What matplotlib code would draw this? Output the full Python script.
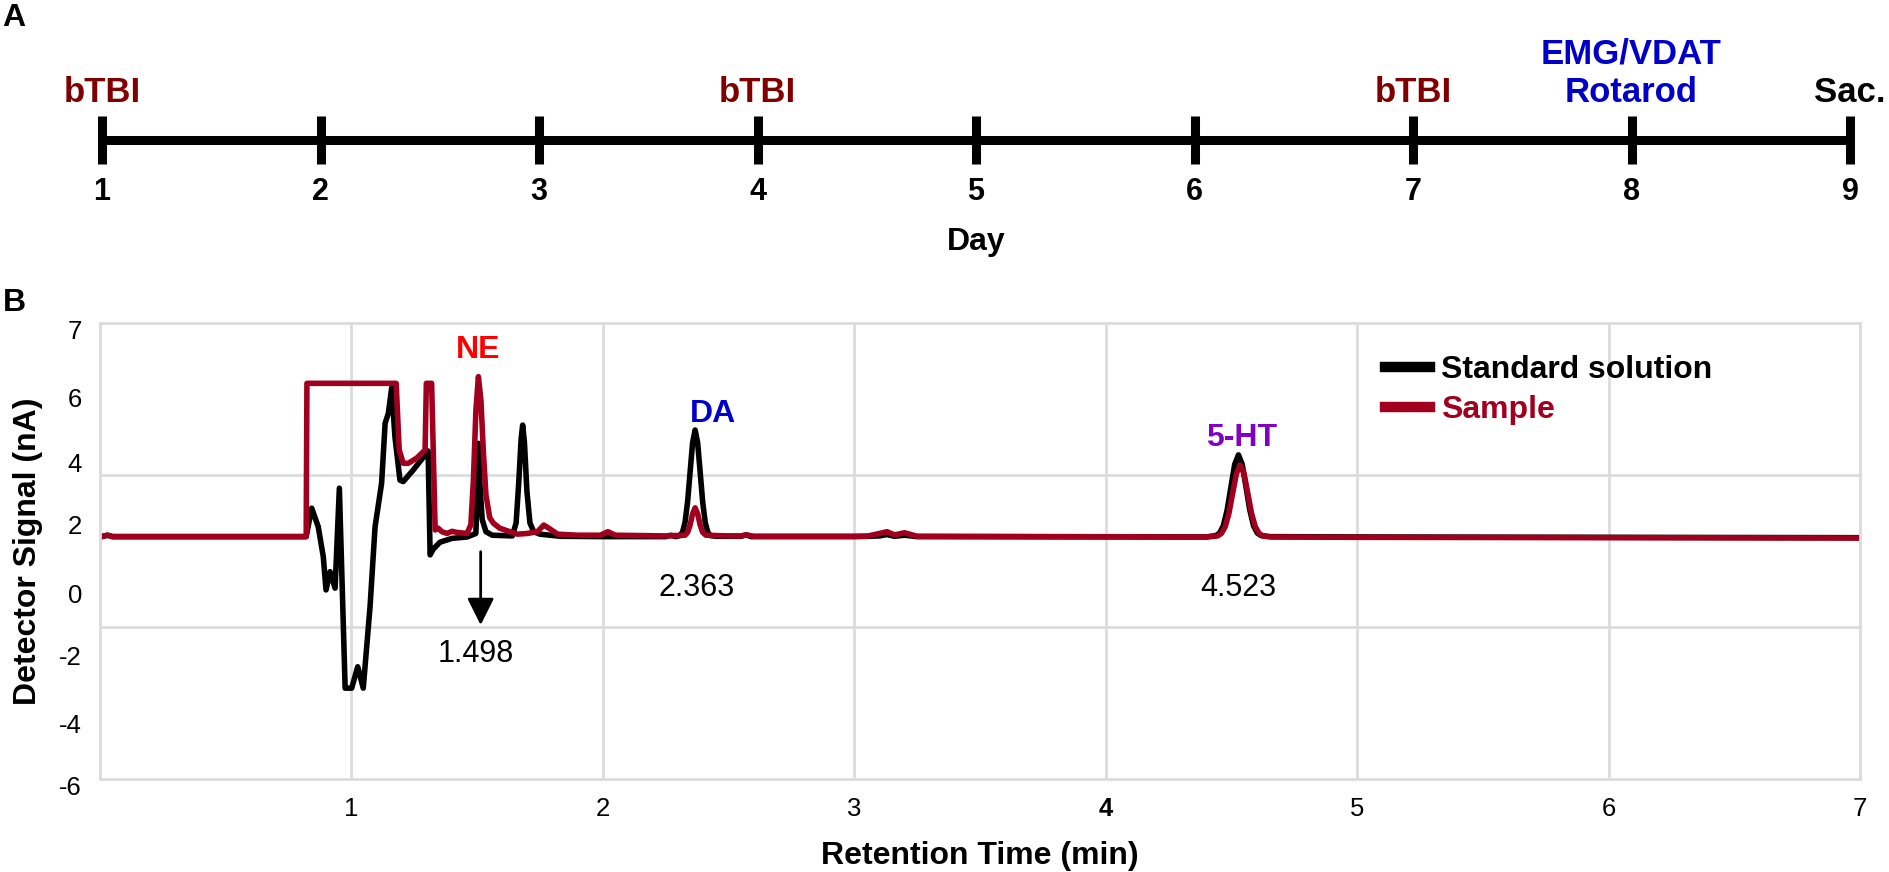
import matplotlib
matplotlib.use("Agg")
from matplotlib import pyplot as plt
from matplotlib.transforms import ScaledTranslation

plt.rcParams['font.family'] = ['Liberation Sans', 'DejaVu Sans']

# ---- panel A: timeline ----
days = [1, 2, 3, 4, 5, 6, 7, 8, 9]
event_days = [1, 4, 7, 8, 9]
event_labels = ['bTBI', 'bTBI', 'bTBI', 'EMG/VDAT\nRotarod', 'Sac.']
event_colors = ['#800000', '#800000', '#800000', '#0000C8', '#000000']

# ---- panel B: chromatogram ----
std_t = [0.00, 0.03, 0.05, 0.82, 0.842, 0.868, 0.888, 0.899, 0.915, 0.935, 0.952, 0.975,
         1.001, 1.025, 1.047, 1.074, 1.094, 1.12, 1.134, 1.147, 1.160, 1.173, 1.193, 1.206,
         1.246, 1.293, 1.305, 1.313, 1.325, 1.352, 1.40, 1.46, 1.495, 1.50, 1.505, 1.512,
         1.52, 1.535, 1.56, 1.64, 1.655, 1.665, 1.675, 1.681, 1.688, 1.698, 1.71, 1.725,
         1.75, 1.83, 2.0, 2.25, 2.27, 2.29, 2.307, 2.317, 2.327, 2.337, 2.347, 2.357, 2.367,
         2.377, 2.387, 2.397, 2.407, 2.417, 2.427, 2.45, 2.55, 2.57, 2.59, 3.0, 3.1, 3.13,
         3.16, 3.2, 3.25, 4.4, 4.438, 4.453, 4.468, 4.483, 4.498, 4.513, 4.528, 4.543,
         4.558, 4.573, 4.588, 4.603, 4.618, 4.65, 5.0, 7.0]
std_y = [0.90, 0.95, 0.91, 0.91, 1.72, 1.19, 0.34, -0.61, -0.09, -0.56, 2.29, -3.41,
         -3.41, -2.80, -3.41, -1.09, 1.19, 2.43, 4.14, 4.43, 5.15, 3.76, 2.52, 2.48,
         2.81, 3.24, 3.35, 0.39, 0.55, 0.75, 0.86, 0.90, 1.00, 2.30, 3.57, 2.30,
         1.40, 1.05, 0.95, 0.93, 1.30, 2.40, 3.70, 4.09, 3.60, 2.20, 1.30, 1.05,
         0.98, 0.92, 0.91, 0.91, 0.95, 0.91, 0.94, 1.04, 1.32, 1.90, 2.75, 3.59, 3.95,
         3.59, 2.75, 1.90, 1.32, 1.04, 0.94, 0.92, 0.92, 0.96, 0.91, 0.91, 0.93, 0.97,
         0.92, 0.95, 0.91, 0.90, 0.94, 1.01, 1.22, 1.67, 2.32, 2.97, 3.24, 2.97,
         2.32, 1.67, 1.22, 1.01, 0.94, 0.91, 0.90, 0.88]

smp_t = [0.00, 0.03, 0.05, 0.82, 0.823, 1.178, 1.19, 1.206, 1.226, 1.26, 1.293, 1.298,
         1.319, 1.333, 1.345, 1.36, 1.38, 1.40, 1.42, 1.46, 1.475, 1.485, 1.495, 1.505,
         1.515, 1.525, 1.535, 1.55, 1.565, 1.59, 1.618, 1.66, 1.70, 1.74, 1.765, 1.785,
         1.82, 1.9, 1.99, 2.02, 2.05, 2.25, 2.327, 2.337, 2.347, 2.357, 2.367, 2.377,
         2.387, 2.397, 2.41, 2.5, 2.55, 2.57, 2.6, 3.05, 3.1, 3.13, 3.16, 3.2, 3.25,
         4.4, 4.445, 4.46, 4.475, 4.49, 4.505, 4.52, 4.535, 4.55, 4.565, 4.58, 4.595,
         4.61, 4.625, 4.66, 5.0, 7.0]
smp_y = [0.90, 0.95, 0.91, 0.91, 5.28, 5.28, 3.38, 3.00, 3.00, 3.15, 3.38, 5.28,
         5.28, 1.10, 1.15, 1.05, 1.00, 1.06, 1.03, 1.00, 1.25, 2.50, 4.50, 5.47,
         4.80, 3.30, 2.10, 1.45, 1.29, 1.15, 1.08, 0.98, 1.00, 1.05, 1.24, 1.15,
         0.98, 0.95, 0.95, 1.05, 0.95, 0.93, 0.95, 1.03, 1.24, 1.56, 1.73, 1.56,
         1.24, 1.03, 0.95, 0.93, 0.93, 0.96, 0.92, 0.92, 1.00, 1.05, 0.96, 1.02, 0.92,
         0.90, 0.93, 1.00, 1.19, 1.57, 2.15, 2.71, 2.95, 2.71, 2.15, 1.57, 1.19,
         1.00, 0.93, 0.90, 0.89, 0.87]

ytick_pos = [7.0, 5.06, 3.18, 1.44, -0.53, -2.32, -4.26, -6.0]
ytick_labels = ['7', '6', '4', '2', '0', '-2', '-4', '-6']
ygrid_pos = [2.667, -1.667]
xtick_pos = [1, 2, 3, 4, 5, 6, 7]

peak_names = ['NE', 'DA', '5-HT']
peak_colors = ['#FF0000', '#0000CC', '#8000C4']
peak_label_x = [1.504, 2.437, 4.539]
peak_label_y = [6.23, 4.41, 3.72]
rt_labels = ['1.498', '2.363', '4.523']
rt_x = [1.495, 2.373, 4.527]
rt_y = [-2.44, -0.55, -0.55]

RED = '#A0001E'
GRID = '#DCDCDC'

fig = plt.figure(figsize=(18.9, 8.72), dpi=100)

# panel A
ax_a = fig.add_axes([0, 1 - 265 / 872, 1, 265 / 872])
ax_a.set_xlim(0.533, 9.183)
ax_a.set_ylim(-125, 140)
ax_a.axis('off')
ax_a.plot([days[0], days[-1]], [0, 0], color='k', lw=6.5, solid_capstyle='butt')
ax_a.vlines(days, -24, 24, color='k', lw=6.5)
for d in days:
    ax_a.text(d, -60, str(d), ha='center', va='baseline', fontsize=22, fontweight='bold')
ax_a.text(5, -110, 'Day', ha='center', va='baseline', fontsize=23, fontweight='bold')
for d, lab, col in zip(event_days, event_labels, event_colors):
    lines = lab.split('\n')
    for k, line in enumerate(reversed(lines)):
        ax_a.text(d, 38 + 39 * k, line, ha='center', va='baseline', fontsize=25,
                  fontweight='bold', color=col)

fig.text(0.001, 1 - 18 / 872, 'A', ha='left', va='center', fontsize=23, fontweight='bold')
fig.text(0.0015, 1 - 303 / 872, 'B', ha='left', va='center', fontsize=23, fontweight='bold')

# panel B
ax = fig.add_axes([100 / 1890, 93 / 872, 1760 / 1890, 456 / 872])
ax.plot(std_t, std_y, color='k', lw=4, label='Standard solution')
ax.plot(smp_t, smp_y, color=RED, lw=4, label='Sample')
ax.set_xlim(0, 7)
ax.set_ylim(-6, 7)

ax.set_xticks(xtick_pos)
ax.set_yticks(ytick_pos, ytick_labels)
ax.set_yticks(ygrid_pos, minor=True)
ax.tick_params(which='both', length=0, labelsize=18.5, pad=13)
ax.grid(axis='x', which='major', color=GRID, lw=2)
ax.grid(axis='y', which='minor', color=GRID, lw=2)
ax.set_axisbelow(True)
for s in ax.spines.values():
    s.set_color(GRID)
    s.set_linewidth(2)

shift = ScaledTranslation(0, -0.06, fig.dpi_scale_trans)
for lbl in ax.get_yticklabels():
    lbl.set_transform(lbl.get_transform() + shift)
ax.get_xticklabels()[3].set_fontweight('bold')

ax.set_ylabel('Detector Signal (nA)', fontsize=23, fontweight='bold')
ax.yaxis.set_label_coords(-0.0324, 0.5)
ax.set_xlabel('Retention Time (min)', fontsize=23, fontweight='bold')
ax.xaxis.set_label_coords(0.5, -0.136)

for name, col, x, y in zip(peak_names, peak_colors, peak_label_x, peak_label_y):
    ax.text(x, y, name, color=col, ha='center', va='center', fontsize=23, fontweight='bold')
for lab, x, y in zip(rt_labels, rt_x, rt_y):
    ax.text(x, y, lab, ha='center', va='center', fontsize=22)

ax.annotate('', xy=(1.514, -1.61), xytext=(1.514, 0.48),
            arrowprops=dict(arrowstyle='-|>,head_length=0.4,head_width=0.2', color='k',
                            lw=2, mutation_scale=41, shrinkA=0, shrinkB=0))

leg = ax.legend(loc='upper left', bbox_to_anchor=(0.730, 0.93), frameon=False,
                prop={'weight': 'bold', 'size': 23}, labelcolor=['k', RED],
                handlelength=1.4, handletextpad=0.35, labelspacing=0.32,
                borderpad=0, borderaxespad=0)
for h in leg.legend_handles:
    h.set_linewidth(7.5)

fig.savefig('out.png', dpi=100)
